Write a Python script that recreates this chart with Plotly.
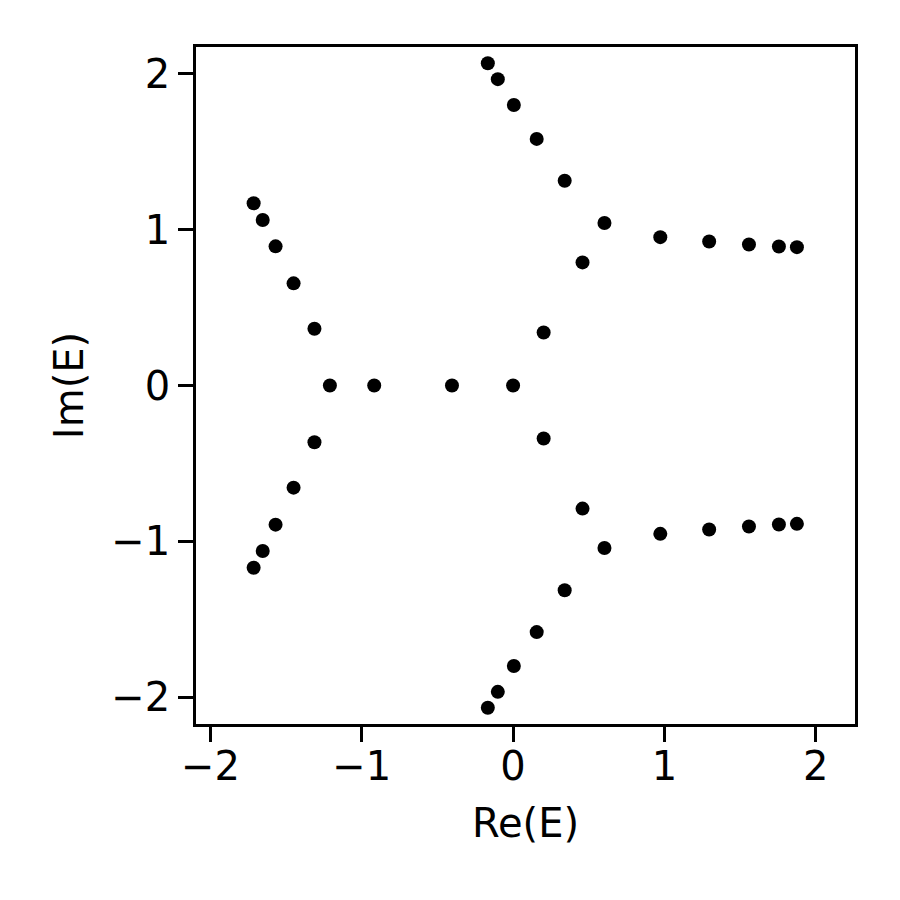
import plotly.graph_objects as go

# eigenvalues in the upper half plane (the lower half is the mirror image)
re_upper = [
    -0.167, -0.101, 0.005, 0.156, 0.341, 0.604, 0.459, 0.202,
    0.973, 1.296, 1.559, 1.757, 1.876,
    -1.715, -1.655, -1.570, -1.451, -1.313,
]
im_upper = [
    2.066, 1.964, 1.798, 1.581, 1.313, 1.042, 0.789, 0.340,
    0.951, 0.923, 0.904, 0.891, 0.887,
    1.168, 1.061, 0.892, 0.655, 0.364,
]
# eigenvalues on the real axis
re_real = [-1.211, -0.918, -0.404, 0.0]
im_real = [0.0, 0.0, 0.0, 0.0]

re_all = re_upper + re_upper + re_real
im_all = im_upper + [-v for v in im_upper] + im_real

FONT = dict(family="DejaVu Sans", size=40, color="black")

fig = go.Figure()
fig.add_trace(go.Scatter(
    x=re_all, y=im_all,
    mode="markers",
    marker=dict(size=14, color="black", line=dict(width=0)),
    showlegend=False,
))

axis_common = dict(
    showgrid=False, zeroline=False,
    showline=True, linecolor="black", linewidth=3.3, mirror=True,
    ticks="outside", ticklen=14.6, tickwidth=3.3, tickcolor="black",
    tickfont=FONT, tickmode="array",
)

# the page body adds an 8px offset, so the margins are shifted to compensate
fig.update_layout(
    width=900, height=900,
    margin=dict(l=188, r=53, t=39, b=184),
    paper_bgcolor="white", plot_bgcolor="white",
    font=FONT,
    xaxis=dict(
        range=[-2.096, 2.260],
        tickvals=[-2, -1, 0, 1, 2],
        ticklabelstandoff=-10,
        title=dict(text="Re(E)", font=FONT, standoff=22),
        **axis_common,
    ),
    yaxis=dict(
        range=[-2.17, 2.17],
        tickvals=[-2, -1, 0, 1, 2],
        title=dict(text="Im(E)", font=FONT, standoff=16),
        **axis_common,
    ),
)

fig.write_html("out.html")
